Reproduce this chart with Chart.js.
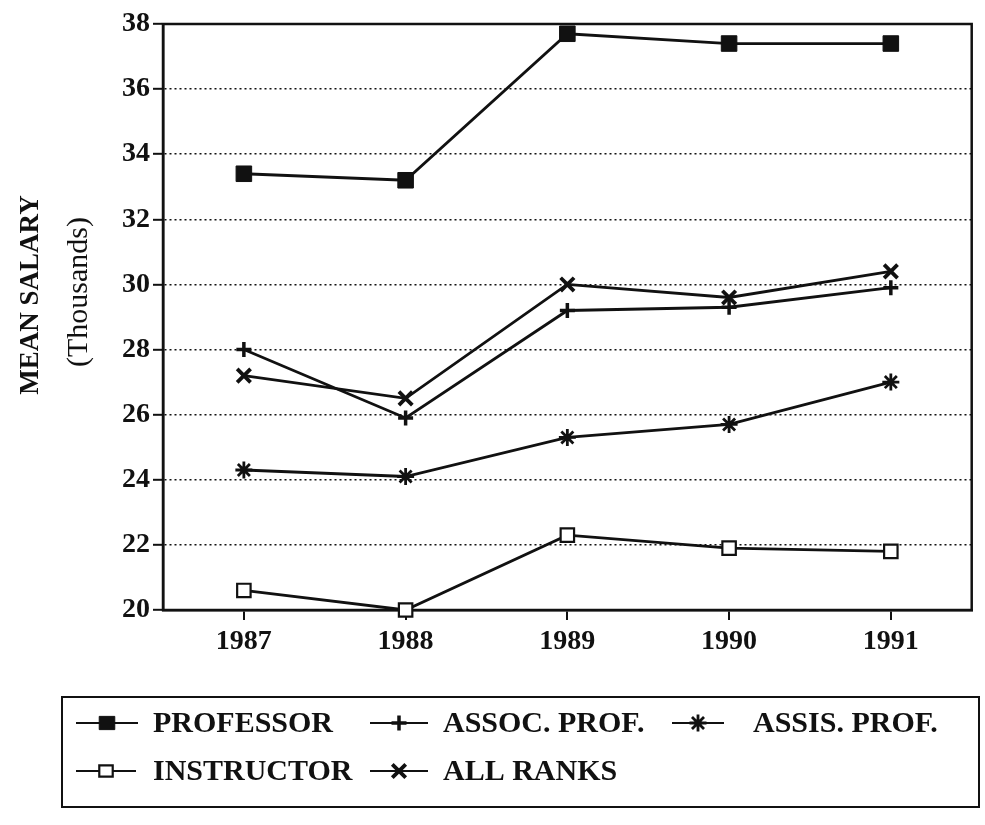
<!DOCTYPE html>
<html>
<head>
<meta charset="utf-8">
<script src="https://cdn.jsdelivr.net/npm/chart.js@4.4.1/dist/chart.umd.min.js"></script>
<style>
  html, body { margin: 0; padding: 0; background: #fff; }
  #wrap { position: relative; width: 985px; height: 825px; }
</style>
</head>
<body>
<div id="wrap"><canvas id="salary" width="985" height="825"></canvas></div>
<script>
// values
const years = ['1987', '1988', '1989', '1990', '1991'];
const professor = [33.4, 33.2, 37.7, 37.4, 37.4];
const assocProf = [28.0, 25.9, 29.2, 29.3, 29.9];
const assisProf = [24.3, 24.1, 25.3, 25.7, 27.0];
const instructor = [20.6, 20.0, 22.3, 21.9, 21.8];
const allRanks = [27.2, 26.5, 30.0, 29.6, 30.4];
const yTicks = [20, 22, 24, 26, 28, 30, 32, 34, 36, 38];

const serif = '"Liberation Serif", "DejaVu Serif", serif';
const ink = '#111';

function series(label, data, style, radius, fill, bw) {
    return {
        label: label, data: data,
        borderColor: ink, borderWidth: 2.8, tension: 0, clip: false,
        pointStyle: style, pointRadius: radius, pointHoverRadius: radius,
        pointBackgroundColor: fill, pointBorderColor: ink, pointBorderWidth: bw
    };
}

// legend slots (line start, line end, text x, row middle)
const legendSlots = [
    { x1: 76, x2: 138, tx: 153, y: 723 },
    { x1: 370, x2: 428, tx: 443, y: 723 },
    { x1: 672, x2: 724, tx: 753, y: 723 },
    { x1: 76, x2: 136, tx: 153, y: 771 },
    { x1: 370, x2: 428, tx: 443, y: 771 }
];

function drawMarker(ctx, ds, x, y) {
    const r = ds.pointRadius;
    ctx.save();
    ctx.lineWidth = ds.pointBorderWidth;
    ctx.strokeStyle = ink;
    ctx.fillStyle = ds.pointBackgroundColor;
    ctx.beginPath();
    if (ds.pointStyle === 'rect') {
        const s = Math.SQRT1_2 * r;
        ctx.rect(x - s, y - s * 0.85, 2 * s, 2 * s * 0.85);
        ctx.fill(); ctx.stroke();
    } else {
        const arms = ds.pointStyle === 'cross' ? [0, 90] : ds.pointStyle === 'crossRot' ? [45, 135] : [0, 45, 90, 135];
        arms.forEach(a => {
            const t = a * Math.PI / 180;
            ctx.moveTo(x - Math.cos(t) * r, y - Math.sin(t) * r);
            ctx.lineTo(x + Math.cos(t) * r, y + Math.sin(t) * r);
        });
        ctx.stroke();
    }
    ctx.restore();
}

const framePlugin = {
    id: 'frame',
    beforeDatasetsDraw(chart) {
        const { ctx, chartArea: a } = chart;
        ctx.save();
        ctx.strokeStyle = ink;
        ctx.lineWidth = 2.5;
        ctx.strokeRect(a.left, a.top, a.right - a.left, a.bottom - a.top);
        ctx.restore();
    },
    afterDraw(chart) {
        const ctx = chart.ctx;
        // axis title, two styles
        ctx.save();
        ctx.fillStyle = ink;
        ctx.textAlign = 'center';
        ctx.textBaseline = 'middle';
        ctx.translate(31, 295);
        ctx.rotate(-Math.PI / 2);
        ctx.font = 'bold 27px ' + serif;
        ctx.fillText('MEAN SALARY', 0, 0);
        ctx.restore();
        ctx.save();
        ctx.fillStyle = ink;
        ctx.textAlign = 'center';
        ctx.textBaseline = 'middle';
        ctx.translate(79, 292);
        ctx.rotate(-Math.PI / 2);
        ctx.font = '30px ' + serif;
        ctx.fillText('(Thousands)', 0, 0);
        ctx.restore();

        // legend box
        ctx.save();
        ctx.strokeStyle = ink;
        ctx.lineWidth = 2;
        ctx.strokeRect(62, 697, 917, 110);
        ctx.font = 'bold 30px ' + serif;
        ctx.fillStyle = ink;
        ctx.textAlign = 'left';
        ctx.textBaseline = 'middle';
        chart.data.datasets.forEach((ds, i) => {
            const s = legendSlots[i];
            ctx.beginPath();
            ctx.lineWidth = 2;
            ctx.moveTo(s.x1, s.y);
            ctx.lineTo(s.x2, s.y);
            ctx.stroke();
            drawMarker(ctx, ds, (s.x1 + s.x2) / 2, s.y);
            ctx.fillText(ds.label, s.tx, s.y + 1);
        });
        ctx.restore();
    }
};

new Chart(document.getElementById('salary'), {
    type: 'line',
    data: {
        labels: years,
        datasets: [
            series('PROFESSOR', professor, 'rect', 11, ink, 1),
            series('ASSOC. PROF.', assocProf, 'cross', 7.5, ink, 3.5),
            series('ASSIS. PROF.', assisProf, 'star', 8.5, ink, 2.8),
            series('INSTRUCTOR', instructor, 'rect', 9.5, '#fff', 2.2),
            series('ALL RANKS', allRanks, 'crossRot', 9.5, ink, 3.8)
        ]
    },
    options: {
        responsive: false,
        animation: false,
        layout: { padding: { top: 24, right: 8, left: 0, bottom: 0 } },
        plugins: { legend: { display: false }, tooltip: { enabled: false } },
        scales: {
            x: {
                offset: true,
                afterFit(scale) { scale.height = 215; },
                grid: { offset: false, drawOnChartArea: false, drawTicks: true, tickLength: 10, color: ink, lineWidth: 2 },
                border: { display: true, color: ink, width: 2.5 },
                ticks: { color: ink, padding: 5, font: { family: serif, size: 28, weight: 'bold' } }
            },
            y: {
                min: 20, max: 38,
                afterFit(scale) { scale.width = 163; },
                afterBuildTicks(scale) { scale.ticks = yTicks.map(v => ({ value: v })); },
                grid: {
                    color: ink, lineWidth: 1.6,
                    tickLength: 10, tickColor: ink, tickWidth: 2, tickBorderDash: []
                },
                border: { display: true, color: ink, width: 2.5, dash: [2, 3] },
                ticks: { color: ink, padding: 3, font: { family: serif, size: 28, weight: 'bold' } }
            }
        }
    },
    plugins: [framePlugin]
});
</script>
</body>
</html>
